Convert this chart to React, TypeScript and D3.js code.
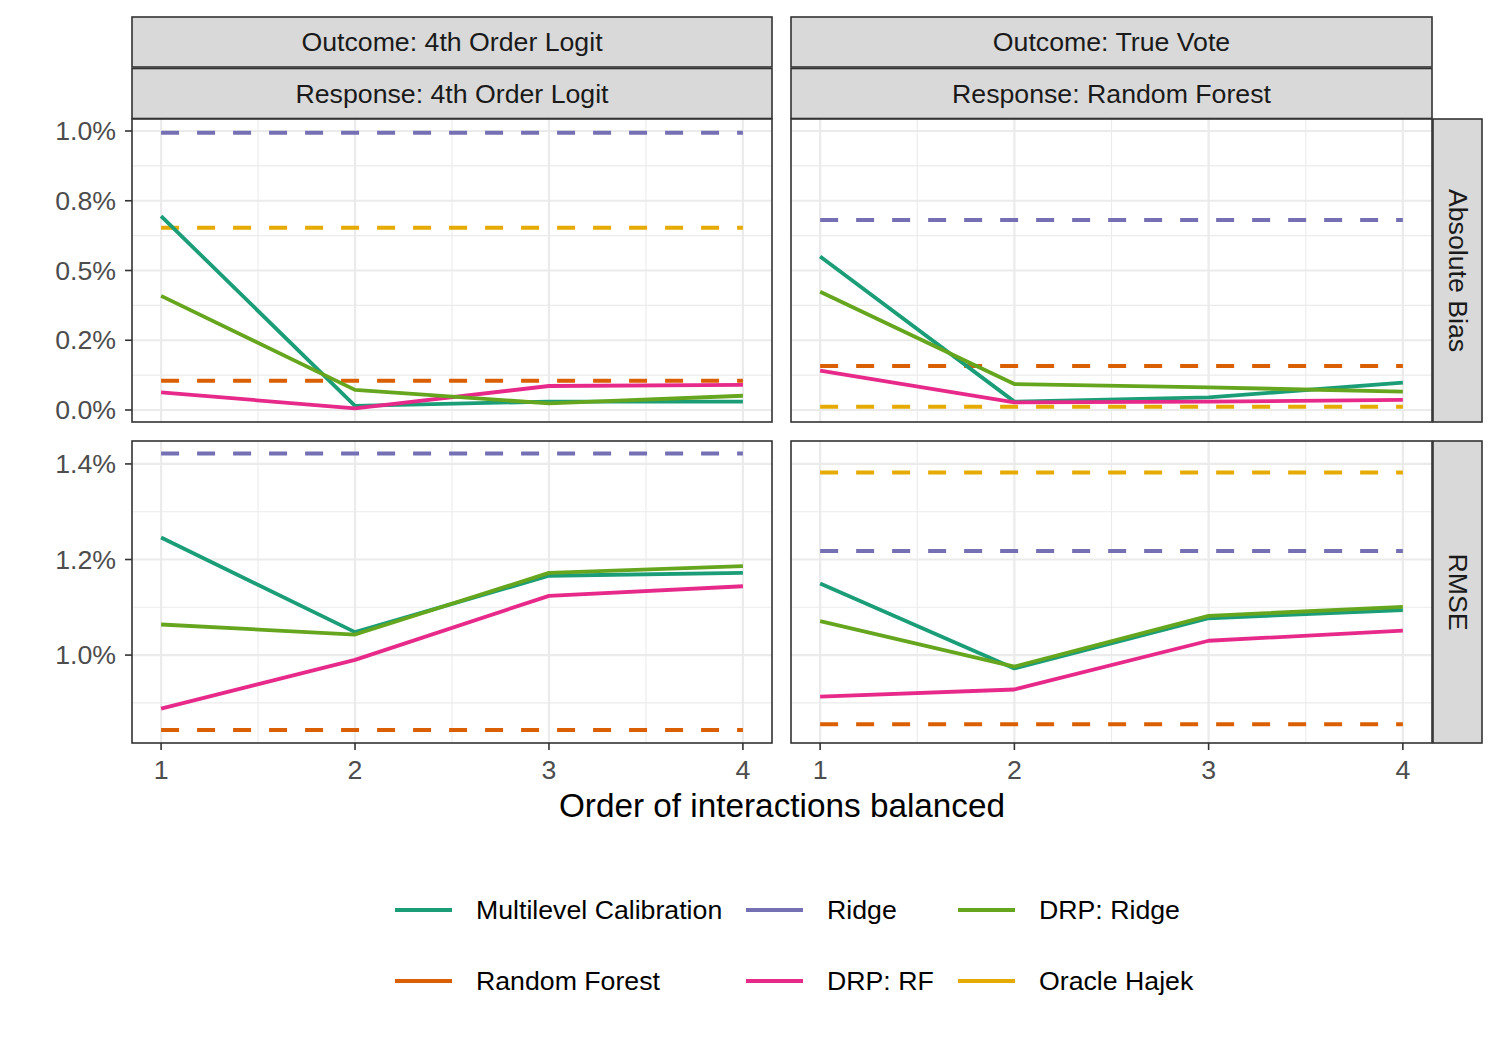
import React from "react";
import * as d3 from "d3";

// ---------- data (values in percent) ----------
const orders = [1, 2, 3, 4];
const methods = ["Multilevel Calibration", "Ridge", "DRP: Ridge", "Random Forest", "DRP: RF", "Oracle Hajek"];
const methodColors = ["#1B9E77", "#7570B3", "#66A61E", "#D95F02", "#E7298A", "#E6AB02"];
const dashedMethods = ["Ridge", "Random Forest", "Oracle Hajek"];
const drawOrder = ["Random Forest", "Ridge", "Oracle Hajek", "Multilevel Calibration", "DRP: RF", "DRP: Ridge"];

const columnLabelsOutcome = ["Outcome: 4th Order Logit", "Outcome: True Vote"];
const columnLabelsResponse = ["Response: 4th Order Logit", "Response: Random Forest"];
const rowLabels = ["Absolute Bias", "RMSE"];

const xTicks = [1, 2, 3, 4];
const xMinor = [1.5, 2.5, 3.5];
const biasTicks = [0, 0.25, 0.5, 0.75, 1.0];
const biasTickLabels = ["0.0%", "0.2%", "0.5%", "0.8%", "1.0%"];
const biasMinor = [0.125, 0.375, 0.625, 0.875];
const rmseTicks = [1.0, 1.2, 1.4];
const rmseTickLabels = ["1.0%", "1.2%", "1.4%"];
const rmseMinor = [0.9, 1.1, 1.3];

// Absolute bias, Outcome: 4th Order Logit
const biasLogit: Record<string, number[]> = {
  "Multilevel Calibration": [0.695, 0.015, 0.03, 0.03],
  "Ridge": [0.994, 0.994, 0.994, 0.994],
  "DRP: Ridge": [0.409, 0.072, 0.024, 0.051],
  "Random Forest": [0.105, 0.105, 0.105, 0.105],
  "DRP: RF": [0.063, 0.006, 0.086, 0.09],
  "Oracle Hajek": [0.653, 0.653, 0.653, 0.653],
};
// Absolute bias, Outcome: True Vote
const biasVote: Record<string, number[]> = {
  "Multilevel Calibration": [0.55, 0.03, 0.045, 0.098],
  "Ridge": [0.681, 0.681, 0.681, 0.681],
  "DRP: Ridge": [0.424, 0.093, 0.081, 0.066],
  "Random Forest": [0.158, 0.158, 0.158, 0.158],
  "DRP: RF": [0.141, 0.027, 0.03, 0.036],
  "Oracle Hajek": [0.012, 0.012, 0.012, 0.012],
};
// RMSE, Outcome: 4th Order Logit
const rmseLogit: Record<string, number[]> = {
  "Multilevel Calibration": [1.246, 1.048, 1.166, 1.172],
  "Ridge": [1.422, 1.422, 1.422, 1.422],
  "DRP: Ridge": [1.064, 1.043, 1.172, 1.186],
  "Random Forest": [0.843, 0.843, 0.843, 0.843],
  "DRP: RF": [0.888, 0.99, 1.124, 1.144],
};
// RMSE, Outcome: True Vote
const rmseVote: Record<string, number[]> = {
  "Multilevel Calibration": [1.15, 0.972, 1.077, 1.094],
  "Ridge": [1.218, 1.218, 1.218, 1.218],
  "DRP: Ridge": [1.071, 0.976, 1.082, 1.101],
  "Random Forest": [0.855, 0.855, 0.855, 0.855],
  "DRP: RF": [0.913, 0.928, 1.03, 1.051],
  "Oracle Hajek": [1.382, 1.382, 1.382, 1.382],
};

// ---------- layout ----------
const FONT = "'Liberation Sans', Arial, Helvetica, sans-serif";
const TXT = 26.7;
const TITLE = 33.3;
const cols = [
  { x0: 132, x1: 772 },
  { x0: 791, x1: 1432 },
];
const rows = [
  { y0: 119, y1: 422, domain: [-0.043, 1.043], ticks: biasTicks, labels: biasTickLabels, minor: biasMinor },
  { y0: 441, y1: 743, domain: [0.816, 1.448], ticks: rmseTicks, labels: rmseTickLabels, minor: rmseMinor },
];
const panelData = [
  [biasLogit, biasVote],
  [rmseLogit, rmseVote],
];

function Panel({ r, c }: { r: number; c: number }) {
  const col = cols[c];
  const row = rows[r];
  const x = d3.scaleLinear().domain([0.85, 4.15]).range([col.x0, col.x1]);
  const y = d3.scaleLinear().domain(row.domain).range([row.y1, row.y0]);
  const data = panelData[r][c];
  const line = d3
    .line<number>()
    .x((_, i) => x(orders[i]))
    .y((d) => y(d));
  return (
    <g>
      <rect x={col.x0} y={row.y0} width={col.x1 - col.x0} height={row.y1 - row.y0} fill="#FFFFFF" />
      {row.minor.map((v) => (
        <line key={"hm" + v} x1={col.x0} x2={col.x1} y1={y(v)} y2={y(v)} stroke="#EBEBEB" strokeWidth={1.1} />
      ))}
      {xMinor.map((v) => (
        <line key={"vm" + v} x1={x(v)} x2={x(v)} y1={row.y0} y2={row.y1} stroke="#EBEBEB" strokeWidth={1.1} />
      ))}
      {row.ticks.map((v) => (
        <line key={"hM" + v} x1={col.x0} x2={col.x1} y1={y(v)} y2={y(v)} stroke="#EBEBEB" strokeWidth={2.2} />
      ))}
      {xTicks.map((v) => (
        <line key={"vM" + v} x1={x(v)} x2={x(v)} y1={row.y0} y2={row.y1} stroke="#EBEBEB" strokeWidth={2.2} />
      ))}
      {drawOrder.map((m) => {
        const vals = data[m];
        if (!vals) return null;
        const dashed = dashedMethods.includes(m);
        return (
          <path
            key={m}
            d={line(vals) || ""}
            fill="none"
            stroke={methodColors[methods.indexOf(m)]}
            strokeWidth={dashed ? 4 : 3.8}
            strokeDasharray={dashed ? "18 18" : undefined}
            strokeLinejoin="round"
          />
        );
      })}
      <rect
        x={col.x0}
        y={row.y0}
        width={col.x1 - col.x0}
        height={row.y1 - row.y0}
        fill="none"
        stroke="#333333"
        strokeWidth={1.6}
      />
      {c === 0 &&
        row.ticks.map((v, i) => (
          <g key={"yt" + v}>
            <line x1={col.x0 - 7} x2={col.x0} y1={y(v)} y2={y(v)} stroke="#333333" strokeWidth={1.6} />
            <text
              x={col.x0 - 16}
              y={y(v)}
              textAnchor="end"
              dominantBaseline="central"
              fontSize={TXT}
              fill="#4D4D4D"
              fontFamily={FONT}
            >
              {row.labels[i]}
            </text>
          </g>
        ))}
      {r === 1 &&
        xTicks.map((v) => (
          <g key={"xt" + v}>
            <line x1={x(v)} x2={x(v)} y1={row.y1} y2={row.y1 + 7} stroke="#333333" strokeWidth={1.6} />
            <text
              x={x(v)}
              y={row.y1 + 27}
              textAnchor="middle"
              dominantBaseline="central"
              fontSize={TXT}
              fill="#4D4D4D"
              fontFamily={FONT}
            >
              {v}
            </text>
          </g>
        ))}
    </g>
  );
}

export default function App() {
  const legendCols = [
    { kx: 395, tx: 476 },
    { kx: 746, tx: 827 },
    { kx: 958, tx: 1039 },
  ];
  const legendRows = [910, 981];
  return (
    <svg
      width={1500}
      height={1050}
      style={{ position: "absolute", left: 0, top: 0, background: "#FFFFFF" }}
      fontFamily={FONT}
    >
      <rect x={0} y={0} width={1500} height={1050} fill="#FFFFFF" />
      {/* column strips */}
      {cols.map((col, c) => (
        <g key={"cs" + c}>
          <rect x={col.x0} y={17} width={col.x1 - col.x0} height={50} fill="#D9D9D9" stroke="#333333" strokeWidth={1.6} />
          <text x={(col.x0 + col.x1) / 2} y={42} textAnchor="middle" dominantBaseline="central" fontSize={TXT} fill="#1A1A1A">
            {columnLabelsOutcome[c]}
          </text>
          <rect x={col.x0} y={68.5} width={col.x1 - col.x0} height={50} fill="#D9D9D9" stroke="#333333" strokeWidth={1.6} />
          <text x={(col.x0 + col.x1) / 2} y={94} textAnchor="middle" dominantBaseline="central" fontSize={TXT} fill="#1A1A1A">
            {columnLabelsResponse[c]}
          </text>
        </g>
      ))}
      {/* row strips */}
      {rows.map((row, r) => (
        <g key={"rs" + r}>
          <rect x={1433} y={row.y0} width={49} height={row.y1 - row.y0} fill="#D9D9D9" stroke="#333333" strokeWidth={1.6} />
          <text
            transform={`translate(1457.5, ${(row.y0 + row.y1) / 2}) rotate(90)`}
            textAnchor="middle"
            dominantBaseline="central"
            fontSize={TXT}
            fill="#1A1A1A"
          >
            {rowLabels[r]}
          </text>
        </g>
      ))}
      {rows.map((_, r) => cols.map((__, c) => <Panel key={r + "-" + c} r={r} c={c} />))}
      <text x={782} y={805} textAnchor="middle" dominantBaseline="central" fontSize={TITLE} fill="#000000">
        Order of interactions balanced
      </text>
      {methods.map((m, i) => {
        const lc = legendCols[i % 3];
        const ly = legendRows[Math.floor(i / 3)];
        return (
          <g key={"lg" + m}>
            <line x1={lc.kx} x2={lc.kx + 57} y1={ly} y2={ly} stroke={methodColors[i]} strokeWidth={3.8} />
            <text x={lc.tx} y={ly} dominantBaseline="central" fontSize={TXT} fill="#000000">
              {m}
            </text>
          </g>
        );
      })}
    </svg>
  );
}
